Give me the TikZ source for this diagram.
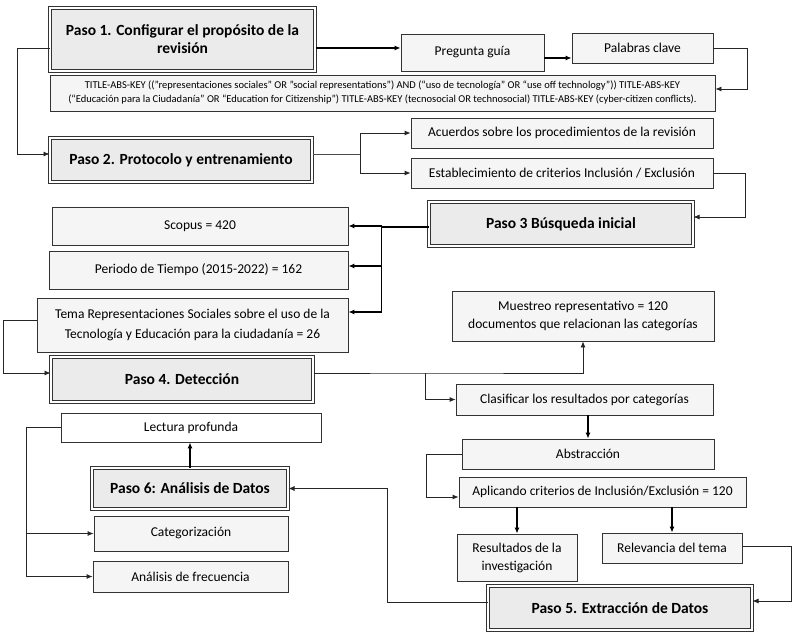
\documentclass[tikz,border=0pt]{standalone}
\usepackage{fontspec}
\setmainfont{Carlito}
\usetikzlibrary{arrows.meta}
\begin{document}
\begin{tikzpicture}[x=1pt, y=-1pt,
		caja/.style={draw=black!80, line width=0.8pt, fill=gray!8, inner sep=2pt, align=center, font=\fontsize{13.5}{18}\selectfont},
		paso/.style={draw=black!80, line width=1pt, double=white, double distance=1.5pt, fill=gray!16, inner sep=2pt, align=center, font=\fontsize{15.5}{18}\selectfont\bfseries},
		flecha/.style={-{Latex[length=6pt,width=5pt]}, line width=0.8pt, black!85},
		gruesa/.style={-{Latex[length=6pt,width=5pt]}, line width=1.6pt}]
			\useasboundingbox (0,0) rectangle (799,636);
			% pasos
			\node[paso, minimum width=265pt, minimum height=63pt] (p1) at (182.5,39.5) {Paso 1. Configurar el propósito de la\\revisión};
			\node[paso, minimum width=262pt, minimum height=44pt] (p2) at (181,160) {Paso 2. Protocolo y entrenamiento};
			\node[paso, minimum width=264pt, minimum height=44pt] (p3) at (561,224) {Paso 3 Búsqueda inicial};
			\node[paso, minimum width=262pt, minimum height=45pt] (p4) at (182,379.5) {Paso 4. Detección};
			\node[paso, minimum width=264pt, minimum height=44pt] (p5) at (620,608) {Paso 5. Extracción de Datos};
			\node[paso, minimum width=196pt, minimum height=41pt] (p6) at (190,488.5) {Paso 6: Análisis de Datos};
			% cajas
			\node[caja, minimum width=143pt, minimum height=37pt] (preg) at (472.5,52.5) {Pregunta guía};
			\node[caja, minimum width=141pt, minimum height=30pt] (pal) at (642.5,48) {Palabras clave};
			\node[caja, minimum width=665pt, minimum height=36pt, font=\fontsize{10.5}{14}\selectfont] (title) at (382.5,93) {TITLE-ABS-KEY (("representaciones sociales" OR "social representations") AND (“uso de tecnología” OR “use off technology”)) TITLE-ABS-KEY\\(“Educación para la Ciudadanía” OR “Education for Citizenship”) TITLE-ABS-KEY (tecnosocial OR technosocial) TITLE-ABS-KEY (cyber-citizen conflicts).};
			\node[caja, minimum width=302pt, minimum height=30pt] (acu) at (562,133) {Acuerdos sobre los procedimientos de la revisión};
			\node[caja, minimum width=302pt, minimum height=30pt] (est) at (562,173) {Establecimiento de criterios Inclusión / Exclusión};
			\node[caja, minimum width=296pt, minimum height=38pt] (scop) at (200,226) {Scopus = 420};
			\node[caja, minimum width=299pt, minimum height=38pt] (per) at (198.5,270) {Periodo de Tiempo (2015-2022) = 162};
			\node[caja, minimum width=311pt, minimum height=54pt, font=\fontsize{13.5}{20}\selectfont] (tema) at (192.5,325) {Tema Representaciones Sociales sobre el uso de la\\Tecnología y Educación para la ciudadanía = 26};
			\node[caja, minimum width=262pt, minimum height=50pt] (mue) at (583,316) {Muestreo representativo = 120\\documentos que relacionan las categorías};
			\node[caja, minimum width=257pt, minimum height=31pt] (clas) at (584.5,399.5) {Clasificar los resultados por categorías};
			\node[caja, minimum width=252pt, minimum height=30pt] (abs) at (588,454) {Abstracción};
			\node[caja, minimum width=287pt, minimum height=30pt] (apl) at (602.5,492) {Aplicando criterios de Inclusión/Exclusión = 120};
			\node[caja, minimum width=120pt, minimum height=47pt] (res) at (517,557.5) {Resultados de la\\investigación};
			\node[caja, minimum width=140pt, minimum height=30pt] (rel) at (672,548) {Relevancia del tema};
			\node[caja, fill=white, minimum width=260pt, minimum height=29pt] (lect) at (191,427.5) {Lectura profunda};
			\node[caja, minimum width=194pt, minimum height=35pt] (cat) at (191,533.5) {Categorización};
			\node[caja, minimum width=195pt, minimum height=31pt] (frec) at (190.5,576.5) {Análisis de frecuencia};
			% conectores
			\draw[flecha] ([yshift=-8.5pt]p1.west) -- ++(-32,0) |- ([yshift=6pt]p2.west);
			\draw[gruesa] ([yshift=-8.5pt]p1.east) -- ([yshift=4.5pt]preg.west);
			\draw[gruesa] ([yshift=-5.5pt]preg.east) -- ([yshift=-10pt]pal.west);
			\draw[flecha] (pal.east) -- ++(34,0) |- ([yshift=4pt]title.east);
			\draw[line width=0.8pt, black!70] ([yshift=6pt]p2.east) -- ++(48,0) coordinate (k2);
			\draw[flecha] (k2) |- (acu.west);
			\draw[flecha] (k2) |- (est.west);
			\draw[flecha] (est.east) -- ++(32,0) |- ([yshift=7pt]p3.east);
			\draw[line width=1.6pt] ([yshift=-3pt]p3.west) -- ++(-47,0) coordinate (k3);
			\draw[gruesa] (k3) |- (scop.east);
			\draw[gruesa] (k3) |- ([yshift=4pt]per.east);
			\draw[gruesa] (k3) |- ([yshift=13pt]tema.east);
			\draw[flecha] ([yshift=5pt]tema.west) -- ++(-33,0) |- ([yshift=6.5pt]p4.west);
			\draw[flecha] ([yshift=6.5pt]p4.east) -- ++(112,0) coordinate (k4) -| (mue.south);
			\draw[flecha] (k4) |- (clas.west);
			\draw[gruesa] (abs.north |- clas.south) -- (abs.north);
			\draw[flecha] (abs.west) -- ++(-35,0) |- ([yshift=-5pt]apl.west);
			\draw[gruesa] (apl.south -| res.north) -- (res.north);
			\draw[gruesa] (apl.south -| rel.north) -- (rel.north);
			\draw[flecha] ([yshift=2pt]rel.east) -- ++(49,0) |- ([yshift=7pt]p5.east);
			\draw[flecha] ([yshift=6pt]p5.west) -- ++(-100,0) |- (p6.east);
			\draw[gruesa] (p6.north) -- (p6.north |- lect.south);
			\draw[flecha] (lect.west) -- ++(-34,0) coordinate (k6) |- (frec.west);
			\draw[flecha] (k6) |- (cat.west);
\end{tikzpicture}
\end{document}
